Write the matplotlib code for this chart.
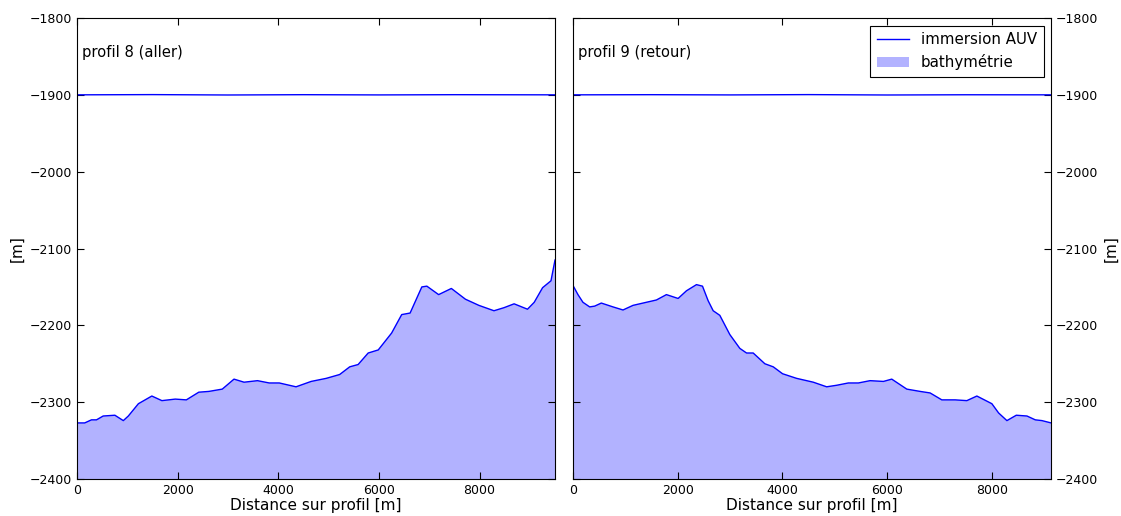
import matplotlib.pyplot as plt
import numpy as np

# profil 8 (aller) - bathymetry
dist_8 = [0, 153, 287, 387, 520, 753, 920, 1020, 1220, 1487, 1687, 1953, 2173,
          2420, 2620, 2887, 3120, 3320, 3587, 3820, 4020, 4353, 4653, 4953,
          5220, 5420, 5587, 5787, 5987, 6253, 6453, 6620, 6853, 6953, 7187,
          7440, 7720, 7987, 8287, 8487, 8687, 8953, 9087, 9253, 9420, 9500]
bathy_8 = [-2327, -2327, -2323, -2323, -2318, -2317, -2324, -2318, -2302, -2292,
           -2298, -2296, -2297, -2287, -2286, -2283, -2270, -2274, -2272, -2275,
           -2275, -2280, -2273, -2269, -2264, -2254, -2251, -2236, -2232, -2210,
           -2186, -2184, -2150, -2149, -2160, -2152, -2166, -2174, -2181, -2177,
           -2172, -2179, -2170, -2151, -2142, -2115]

# profil 9 (retour)
dist_9 = [0, 96, 191, 319, 414, 542, 765, 956, 1147, 1402, 1594, 1785, 2008,
          2168, 2359, 2474, 2582, 2678, 2805, 2996, 3187, 3315, 3442, 3665,
          3825, 4003, 4271, 4590, 4845, 5036, 5259, 5451, 5674, 5929, 6088,
          6375, 6630, 6821, 7044, 7299, 7522, 7713, 8000, 8128, 8287, 8466,
          8670, 8829, 8957, 9130]
bathy_9 = [-2148, -2160, -2170, -2176, -2175, -2171, -2176, -2180, -2174, -2170,
           -2167, -2160, -2165, -2155, -2147, -2149, -2168, -2181, -2187, -2212,
           -2230, -2236, -2236, -2250, -2254, -2263, -2269, -2274, -2280, -2278,
           -2275, -2275, -2272, -2273, -2270, -2283, -2286, -2288, -2297, -2297,
           -2298, -2292, -2302, -2314, -2324, -2317, -2318, -2323, -2324, -2327]

# AUV immersion (almost flat at -1900 m)
auv_dist_8 = [0, 1500, 3000, 4500, 6000, 7500, 9500]
auv_depth_8 = [-1900, -1899.7, -1900.2, -1899.8, -1900.1, -1899.8, -1900]
auv_dist_9 = [0, 1500, 3000, 4500, 6000, 7500, 9130]
auv_depth_9 = [-1900, -1899.8, -1900.1, -1899.7, -1900.2, -1899.9, -1900]

titles = ['profil 8 (aller)', 'profil 9 (retour)']

fig = plt.figure(figsize=(11.21, 5.16), dpi=100)
ax1 = fig.add_axes([0.0687, 0.0717, 0.4264, 0.8934])
ax2 = fig.add_axes([0.5111, 0.0717, 0.4265, 0.8934])

data = [(ax1, dist_8, bathy_8, auv_dist_8, auv_depth_8, 9500),
        (ax2, dist_9, bathy_9, auv_dist_9, auv_depth_9, 9130)]

for (ax, d, b, ad, adep, xmax), title in zip(data, titles):
    ax.plot(ad, adep, color='blue', lw=1, label='immersion AUV')
    ax.fill_between(d, b, -2400, facecolor='blue', alpha=0.3, lw=0,
                    label='bathymétrie')
    ax.plot(d, b, color='blue', lw=1)
    ax.set_xlim(0, xmax)
    ax.set_ylim(-2400, -1800)
    ax.set_xticks([0, 2000, 4000, 6000, 8000])
    ax.set_yticks(np.arange(-2400, -1799, 100))
    ax.tick_params(direction='in', top=True, right=True, left=True,
                   length=5, labelsize=9)
    ax.set_xlabel('Distance sur profil [m]', fontsize=11, labelpad=1)
    ax.text(0.01, 0.925, title, transform=ax.transAxes, fontsize=10.6,
            va='center')
    for s in ax.spines.values():
        s.set_linewidth(0.8)

ax1.set_ylabel('[m]', fontsize=11)
ax2.yaxis.tick_right()
ax2.yaxis.set_label_position('right')
ax2.tick_params(axis='y', left=True, right=True, labelleft=False,
                labelright=True, direction='in')
ax2.set_ylabel('[m]', fontsize=11)

leg = ax2.legend(loc='upper right', fontsize=10.8, fancybox=False,
                 framealpha=1, edgecolor='black', borderaxespad=0.5,
                 handlelength=2.1, handletextpad=0.8, borderpad=0.45,
                 labelspacing=0.45)
leg.get_frame().set_linewidth(0.8)

fig.savefig('out.png', dpi=100)
